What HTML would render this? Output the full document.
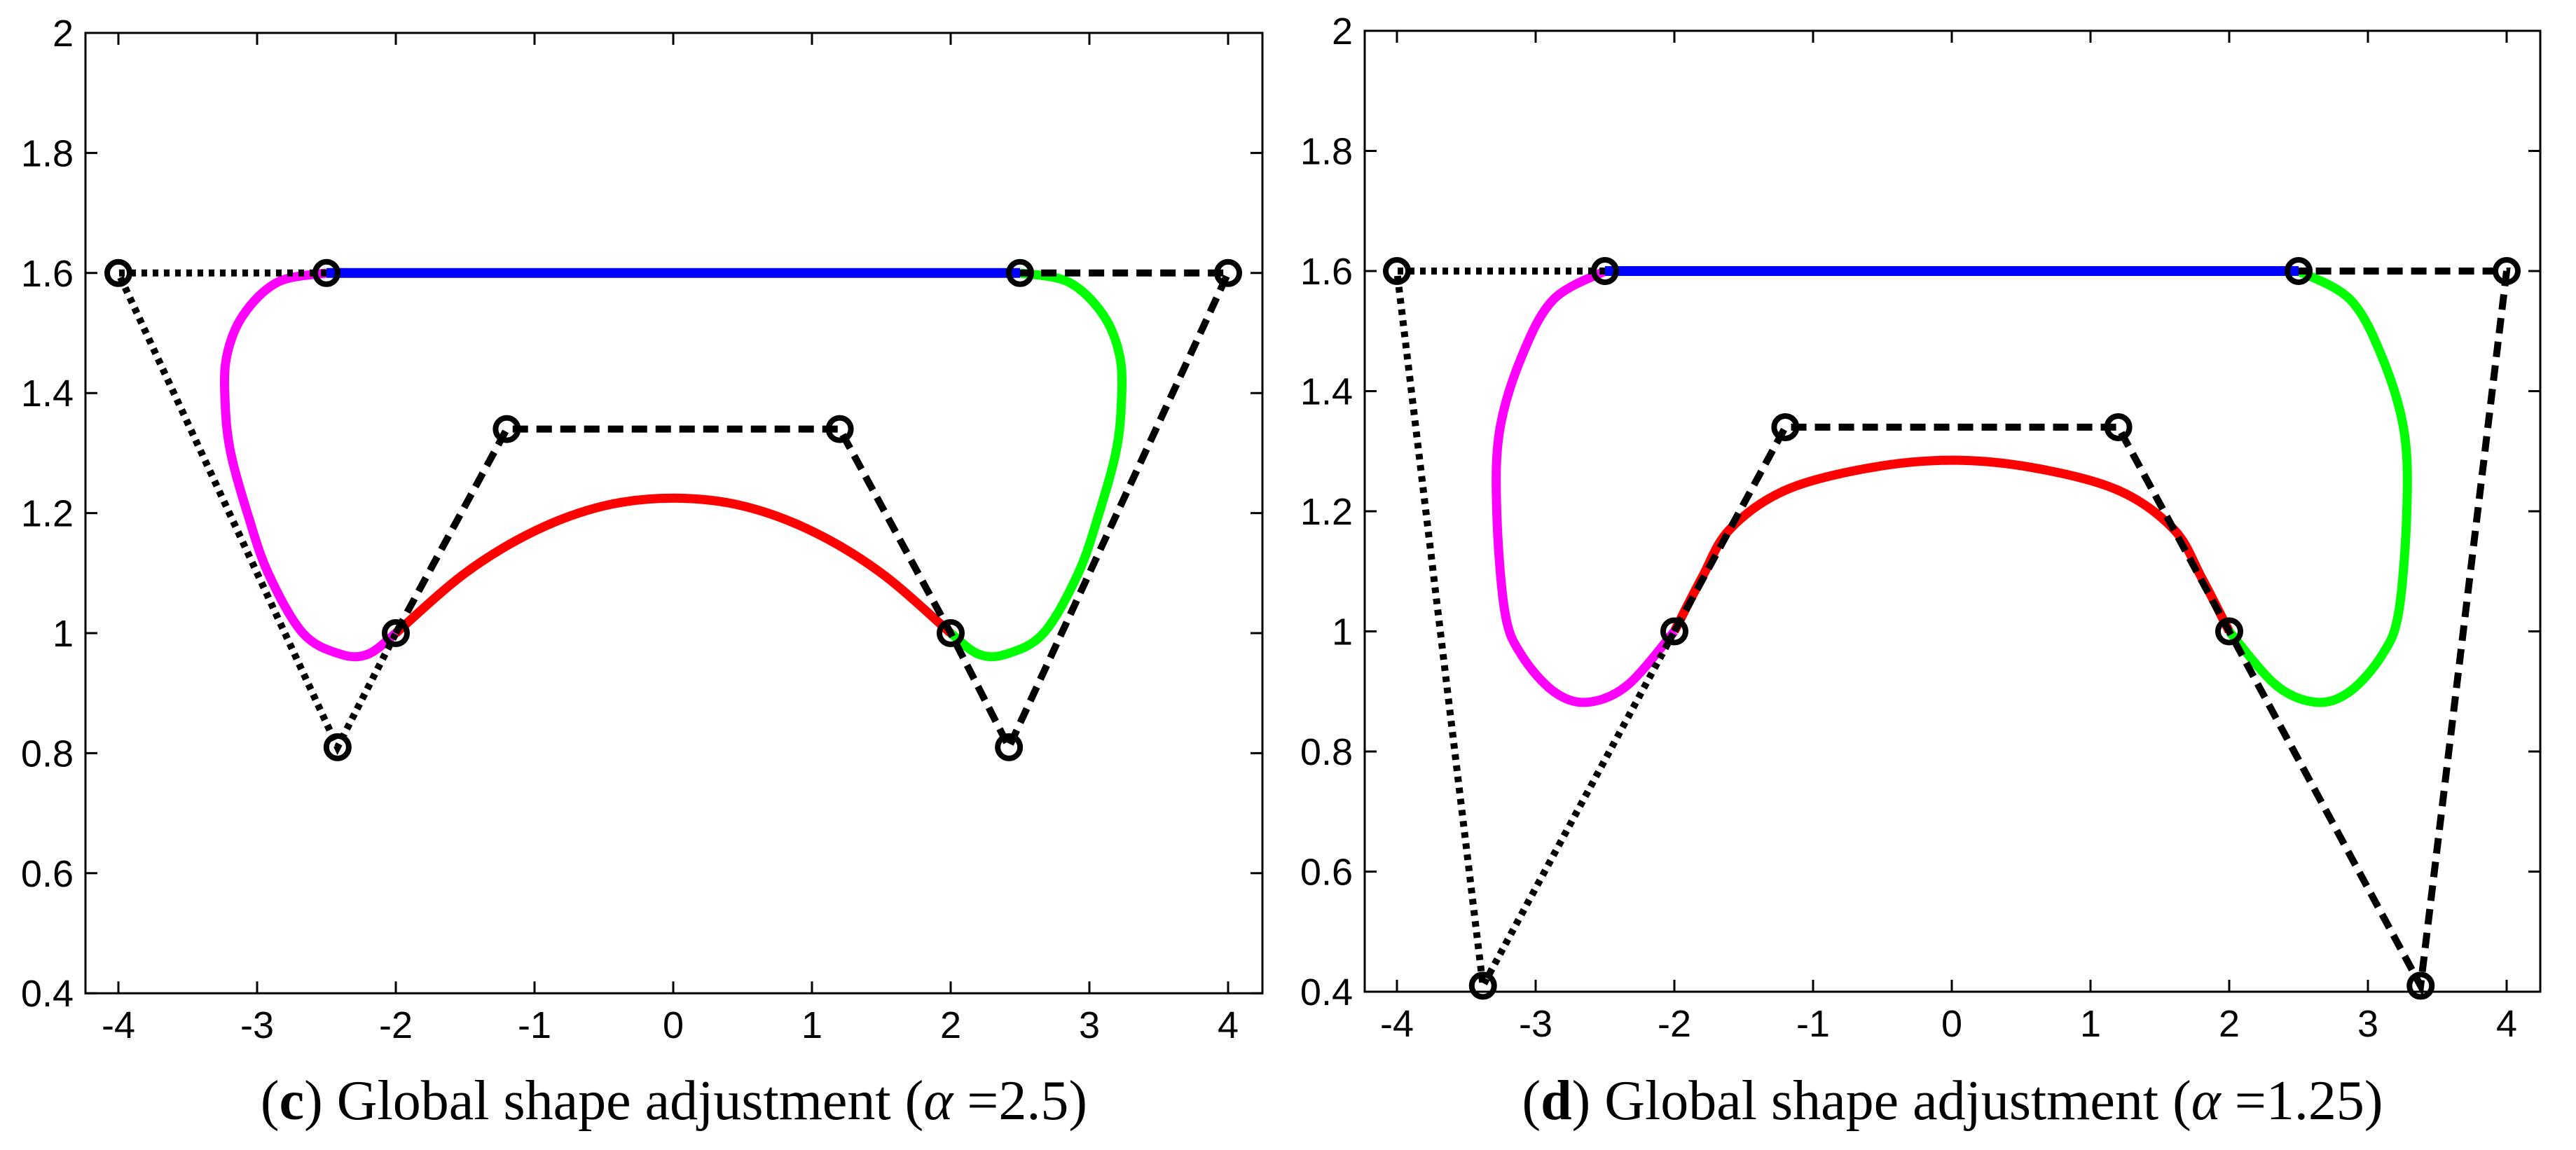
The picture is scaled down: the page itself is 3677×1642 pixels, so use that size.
<!DOCTYPE html>
<html><head><meta charset="utf-8"><style>
html,body{margin:0;padding:0;background:#fff;}
svg{display:block;}
</style></head><body>
<svg id="fig" width="3677" height="1642" viewBox="0 0 3677 1642" xmlns="http://www.w3.org/2000/svg"></svg>
<script>
const xTicks = [-4,-3,-2,-1,0,1,2,3,4];
const yTicks = [0.4,0.6,0.8,1,1.2,1.4,1.6,1.8,2];
const yTickLabels = ["0.4","0.6","0.8","1","1.2","1.4","1.6","1.8","2"];

// panel (c)
const cDotted = [[-2.5,1.6],[-4,1.6],[-2.42,0.81],[-2,1]];
const cDashed = [[-2,1],[-1.2,1.34],[1.2,1.34],[2,1],[2.42,0.81],[4,1.6],[2.5,1.6]];
const cBlue = [[-2.5,1.6],[2.5,1.6]];
const cRed = [[-2,1],[-1.5,1.1],[-1,1.17],[-0.5,1.212],[0,1.225],[0.5,1.212],[1,1.17],[1.5,1.1],[2,1]];
const cMagenta = [[-2.5,1.6],[-2.85,1.585],[-3.1,1.53],[-3.22,1.46],[-3.23,1.38],[-3.19,1.3],[-3.07,1.2],[-2.92,1.1],[-2.67,1.0],[-2.4,0.965],[-2.2,0.965],[-2,1]];
const cGreen = [[2.5,1.6],[2.85,1.585],[3.1,1.53],[3.22,1.46],[3.23,1.38],[3.19,1.3],[3.07,1.2],[2.92,1.1],[2.67,1.0],[2.4,0.965],[2.2,0.965],[2,1]];
const cPoints = [[-4,1.6],[-2.5,1.6],[-2.42,0.81],[-2,1],[-1.2,1.34],[1.2,1.34],[2,1],[2.42,0.81],[2.5,1.6],[4,1.6]];

// panel (d)
const dDotted = [[-2.5,1.6],[-4,1.6],[-3.38,0.41],[-2,1]];
const dDashed = [[-2,1],[-1.2,1.34],[1.2,1.34],[2,1],[3.38,0.41],[4,1.6],[2.5,1.6]];
const dBlue = [[-2.5,1.6],[2.5,1.6]];
const dRed = [[-2,1],[-1.8,1.09],[-1.6,1.17],[-1.2,1.235],[-0.6,1.272],[0,1.285],[0.6,1.272],[1.2,1.235],[1.6,1.17],[1.8,1.09],[2,1]];
const dMagenta = [[-2.5,1.6],[-2.87,1.553],[-3.1,1.458],[-3.26,1.334],[-3.28,1.197],[-3.22,1.03],[-3.1,0.96],[-2.87,0.9],[-2.63,0.882],[-2.34,0.91],[-2,1]];
const dGreen = [[2.5,1.6],[2.87,1.553],[3.1,1.458],[3.26,1.334],[3.28,1.197],[3.22,1.03],[3.1,0.96],[2.87,0.9],[2.63,0.882],[2.34,0.91],[2,1]];
const dPoints = [[-4,1.6],[-2.5,1.6],[-3.38,0.41],[-2,1],[-1.2,1.34],[1.2,1.34],[2,1],[3.38,0.41],[2.5,1.6],[4,1.6]];

const NS = "http://www.w3.org/2000/svg";
const svg = document.getElementById("fig");
function mk(tag, attrs, parent){
  const e = document.createElementNS(NS, tag);
  for (const k in attrs) e.setAttribute(k, attrs[k]);
  (parent||svg).appendChild(e);
  return e;
}

function drawPanel(p){
  const g = mk("g", {});
  
  
  const X = v => p.x0 + (v - (-4)) * p.ux;
  const Y = v => p.yTop + (2 - v) / 0.2 * p.uy;
  const L = p.left, R = p.right, T = p.yTop, B = Y(0.4);
  const frame = mk("rect", {x:L, y:T, width:R-L, height:B-T, fill:"none", stroke:"#000", "stroke-width":3}, g);
  
  
  xTicks.forEach(t=>{
    const x = X(t);
    const tk = mk("path", {d:`M${x},${B}v-17M${x},${T}v17`, stroke:"#000","stroke-width":3}, g);
    
    
    const tx = mk("text", {x:x, y:B+64, "text-anchor":"middle", "font-family":"Liberation Sans, Arial, sans-serif", "font-size":54}, g);
    tx.textContent = String(t);
    
    
  });
  yTicks.forEach((t,i)=>{
    const y = Y(t);
    const tk = mk("path", {d:`M${L},${y}h17M${R},${y}h-17`, stroke:"#000","stroke-width":3}, g);
    
    
    const tx = mk("text", {x:L-17, y:y+19, "text-anchor":"end", "font-family":"Liberation Sans, Arial, sans-serif", "font-size":54}, g);
    tx.textContent = yTickLabels[i];
    
    
  });
  const poly = pts => pts.map((q,i)=>(i?"L":"M")+X(q[0]).toFixed(1)+","+Y(q[1]).toFixed(1)).join("");
  const smooth = pts => {
    const P = pts.map(q=>[X(q[0]),Y(q[1])]);
    let d = "M"+P[0][0]+","+P[0][1];
    for (let i=0;i<P.length-1;i++){
      const p0=P[Math.max(0,i-1)], p1=P[i], p2=P[i+1], p3=P[Math.min(P.length-1,i+2)];
      const c1=[p1[0]+(p2[0]-p0[0])/6, p1[1]+(p2[1]-p0[1])/6];
      const c2=[p2[0]-(p3[0]-p1[0])/6, p2[1]-(p3[1]-p1[1])/6];
      d += `C${c1[0].toFixed(1)},${c1[1].toFixed(1)} ${c2[0].toFixed(1)},${c2[1].toFixed(1)} ${p2[0].toFixed(1)},${p2[1].toFixed(1)}`;
    }
    return d;
  };
  const curves = [[p.red,"#ff0000","red-curve"],[p.magenta,"#ff00ff","magenta-curve"],[p.green,"#00ff00","green-curve"]];
  curves.forEach(c=>{
    const e = mk("path", {d:smooth(c[0]), fill:"none", stroke:c[1], "stroke-width":13, "stroke-linejoin":"round"}, g);
    
    
  });
  const bl = mk("path", {d:poly(p.blue), fill:"none", stroke:"#0000ff", "stroke-width":14}, g);
  
  
  const dt = mk("path", {d:poly(p.dotted), fill:"none", stroke:"#000", "stroke-width":10, "stroke-dasharray":"8 8"}, g);
  
  
  const ds = mk("path", {d:poly(p.dashed), fill:"none", stroke:"#000", "stroke-width":10, "stroke-dasharray":"22 12"}, g);
  
  
  p.points.forEach(q=>{
    const c = mk("circle", {cx:X(q[0]), cy:Y(q[1]), r:16, fill:"none", stroke:"#000", "stroke-width":8}, g);
    
    
  });
  const cap = mk("text", {x:(L+R)/2, y:1598, "text-anchor":"middle", "font-family":"Liberation Serif, serif", "font-size":80}, g);
  
  
  cap.innerHTML = `(<tspan font-weight="bold">${p.letter}</tspan>) Global shape adjustment (<tspan font-style="italic">α</tspan> =${p.alpha})`;
}

drawPanel({name:"panel-c", letter:"c", alpha:"2.5", left:122, right:1802, x0:169, ux:198, yTop:47, uy:171.4,
  dotted:cDotted, dashed:cDashed, blue:cBlue, red:cRed, magenta:cMagenta, green:cGreen, points:cPoints});
drawPanel({name:"panel-d", letter:"d", alpha:"1.25", left:1948, right:3626, x0:1994, ux:198, yTop:44, uy:171.5,
  dotted:dDotted, dashed:dDashed, blue:dBlue, red:dRed, magenta:dMagenta, green:dGreen, points:dPoints});
</script>
</body></html>
